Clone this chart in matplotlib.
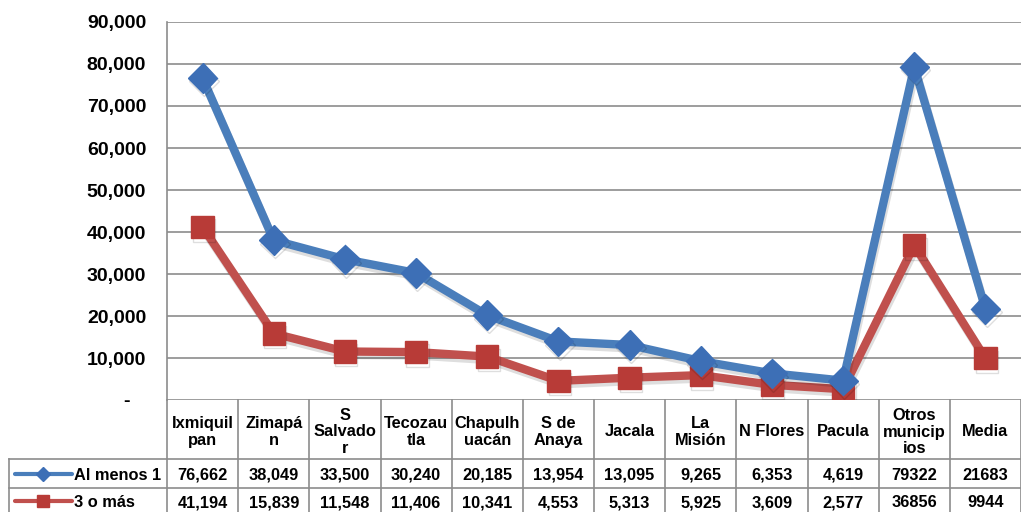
import matplotlib
matplotlib.use("Agg")
import matplotlib.pyplot as plt
import matplotlib.patheffects as pe
from matplotlib.ticker import FixedLocator

plt.rcParams["font.family"] = ["Liberation Sans", "DejaVu Sans"]
plt.rcParams["font.weight"] = "bold"

# data
categories = ["Ixmiquil\npan", "Zimapá\nn", "S\nSalvado\nr", "Tecozau\ntla",
              "Chapulh\nuacán", "S de\nAnaya", "Jacala", "La\nMisión",
              "N Flores", "Pacula", "Otros\nmunicip\nios", "Media"]
al_menos_1 = [76662, 38049, 33500, 30240, 20185, 13954, 13095, 9265,
              6353, 4619, 79322, 21683]
tres_o_mas = [41194, 15839, 11548, 11406, 10341, 4553, 5313, 5925,
              3609, 2577, 36856, 9944]
no_comma = ["Otros\nmunicip\nios", "Media"]   # shown without thousands sep
series_names = ["Al menos 1", "3 o más"]
yticks = [0, 10000, 20000, 30000, 40000, 50000, 60000, 70000, 80000, 90000]

BLUE, BLUE_M = "#4a7ebb", "#3d6fb6"
RED, RED_M = "#c0504d", "#b83b37"
GRID = "#8c8c8c"
W, H = 1021, 512

fig = plt.figure(figsize=(W / 100, H / 100), dpi=100)
ax = fig.add_axes([167 / W, 112 / H, 854 / W, 378 / H])

n = len(categories)
xs = [i + 0.5 for i in range(n)]
shadow = [pe.SimpleLineShadow(offset=(1, -2.5), alpha=0.13), pe.Normal()]

ax.plot(xs, al_menos_1, color=BLUE, lw=6, marker="D", ms=15,
        mfc=BLUE_M, mec=BLUE_M, path_effects=shadow, zorder=4)
ax.plot(xs, tres_o_mas, color=RED, lw=6, marker="s", ms=16,
        mfc=RED_M, mec=RED_M, path_effects=shadow, zorder=3)

ax.set_xlim(0, n)
ax.set_ylim(0, 90000)
ax.yaxis.set_major_locator(FixedLocator(yticks))
ax.set_yticklabels(["-   "] + [f"{v:,}" for v in yticks[1:]], fontsize=14)
ax.tick_params(axis="y", length=0, pad=15)
ax.set_xticks([])
ax.grid(axis="y", color=GRID, lw=1.2)
ax.set_axisbelow(True)
for s in ("top", "right", "bottom"):
    ax.spines[s].set_visible(False)
ax.spines["left"].set_color(GRID)
ax.spines["left"].set_linewidth(1.2)

# data table below, y in pixel rows of the image
tab = fig.add_axes([167 / W, 0, 854 / W, 112 / H], sharex=ax)
tab.set_ylim(H, 400)
tab.axis("off")
cw = 854 / n  # px per category
left_edge = (9 - 167) / cw
row_top, row1, row2, row_bot = 400, 459, 488, 513
fs = 11.8
lk = dict(color=GRID, lw=1.2, clip_on=False)

for i in range(n + 1):
    tab.plot([i, i], [row_top, row_bot], **lk)
tab.plot([left_edge, left_edge], [row1, row_bot], **lk)
for yy in (row1, row2, row_bot):
    tab.plot([left_edge, n], [yy, yy], **lk)

for x, cat in zip(xs, categories):
    tab.text(x, 432, cat, ha="center", va="center",
             fontsize=fs, linespacing=1.12, fontweight="bold")

rows = [(al_menos_1, 480, BLUE, BLUE_M, "D", 7),
        (tres_o_mas, 507, RED, RED_M, "s", 8)]
for (vals, base, c, mc, mk, msz), name in zip(rows, series_names):
    for x, v, cat in zip(xs, vals, categories):
        txt = str(v) if cat in no_comma else f"{v:,}"
        tab.text(x, base, txt, ha="center", va="baseline", fontsize=fs,
                 fontweight="bold")
    ky = base - 6
    tab.plot([(15 - 167) / cw, (72 - 167) / cw], [ky, ky], color=c, lw=3,
             clip_on=False, solid_capstyle="round")
    tab.plot([(43 - 167) / cw], [ky], marker=mk, ms=msz, color=mc,
             clip_on=False)
    tab.text((74 - 167) / cw, base, name, ha="left", va="baseline",
             fontsize=fs, fontweight="bold")

fig.savefig("out.png", dpi=100, facecolor="white")
